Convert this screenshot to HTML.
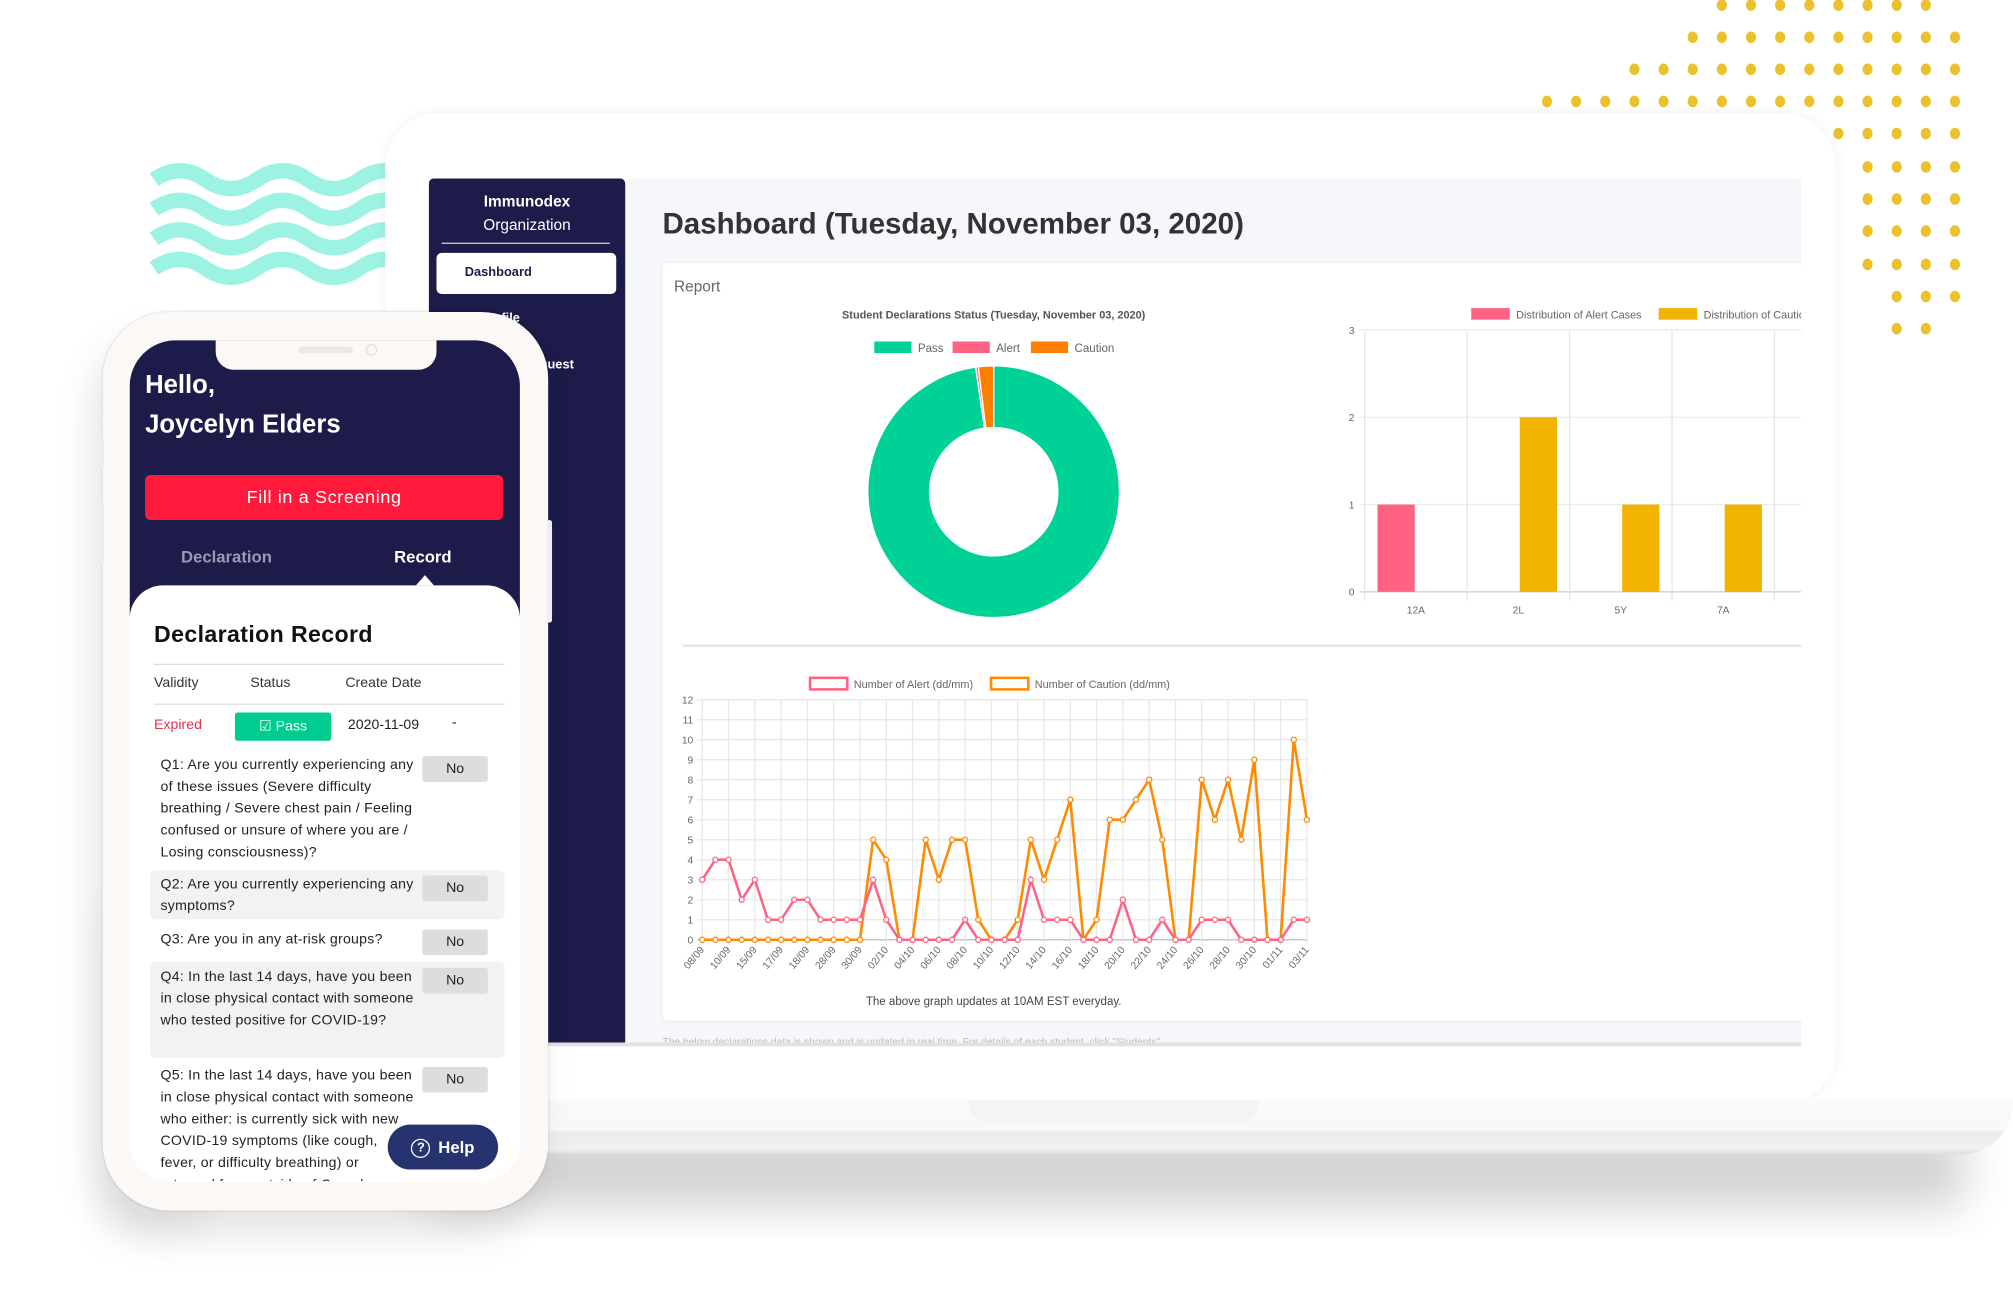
<!DOCTYPE html>
<html><head><meta charset="utf-8">
<style>
html,body{margin:0;padding:0;background:#fff;overflow:hidden}
body{width:2013px;height:1311px;position:relative;font-family:"Liberation Sans",sans-serif}
#stage{position:absolute;left:0;top:0;width:1568px;height:1021px;transform:scale(1.2838);transform-origin:0 0}
.abs{position:absolute}
.side-item{position:absolute;color:#fff;font-size:10px;font-weight:bold;white-space:nowrap;text-align:right}
.q{position:absolute;left:24px;width:200px;font-size:11px;line-height:17px;color:#222;letter-spacing:0.2px}
.no{position:absolute;left:228px;width:51px;height:20px;background:#ddd;border-radius:2px;font-size:11px;text-align:center;line-height:20px;color:#222}
</style></head>
<body>
<div id="stage">
<svg class="abs" style="left:0;top:0" width="1568" height="1021">
  <defs>
    <filter id="blur" x="-20%" y="-20%" width="140%" height="160%"><feGaussianBlur stdDeviation="18"/></filter>
  </defs>
  <g id="dots" fill="#EBC12C"></g>
  <g stroke="#9DF3E3" stroke-width="12" fill="none">
    <path d="M120 140 q20 -14 40 0 t40 0 t40 0 t40 0 t40 0"/>
    <path d="M120 163 q20 -14 40 0 t40 0 t40 0 t40 0 t40 0"/>
    <path d="M120 186 q20 -14 40 0 t40 0 t40 0 t40 0 t40 0"/>
    <path d="M120 209 q20 -14 40 0 t40 0 t40 0 t40 0 t40 0"/>
  </g>
  <rect x="330" y="880" width="1200" height="60" fill="#000" opacity="0.18" filter="url(#blur)"/>
  <rect x="80" y="700" width="80" height="260" fill="#000" opacity="0.06" filter="url(#blur)"/>
</svg>
<!-- laptop -->
<div class="abs" style="left:300px;top:88px;width:1130px;height:772px;background:#fff;border-radius:42px;box-shadow:0 0 10px rgba(0,0,0,0.06)"></div>
<div class="abs" style="left:330px;top:857px;width:1238px;height:42px;background:linear-gradient(#fafafa 0%,#f8f8f8 55%,#ececec 60%,#f1f1f1 90%,#ddd 100%);border-bottom-right-radius:40px"></div>
<div class="abs" style="left:755px;top:857px;width:225px;height:17px;background:#f5f3f3;border-radius:0 0 14px 14px"></div>
<div class="abs" style="left:334px;top:139px;width:1069px;height:673px;background:#f6f7fa;overflow:hidden;border-bottom:3px solid #e2e2e2">
  <div class="abs" style="left:0;top:0;width:153px;height:673px;background:#1c1b4a;border-radius:4px 4px 0 0">
    <div class="abs" style="left:0;top:9px;width:153px;text-align:center;color:#fff;font-size:12px;line-height:18px"><b>Immunodex</b><br>Organization</div>
    <div class="abs" style="left:10px;top:50px;width:131px;height:1px;background:#cfcfe0"></div>
    <div class="abs" style="left:6px;top:58px;width:140px;height:32px;background:#fff;border-radius:4px;font-size:10px;font-weight:bold;color:#1c1b4a;line-height:32px;text-indent:22px">Dashboard</div>
    <div class="side-item" style="right:82px;top:104px">Profile</div>
    <div class="side-item" style="right:40px;top:140px">Request</div>
  </div>
  <div class="abs" style="left:182px;top:22px;font-size:23px;font-weight:bold;color:#333;white-space:nowrap">Dashboard (Tuesday, November 03, 2020)</div>
  <div class="abs" style="left:182px;top:66px;width:900px;height:590px;background:#fff;border-radius:4px;box-shadow:0 0 3px rgba(0,0,0,0.08)">
    <div class="abs" style="left:9px;top:11px;font-size:12px;color:#666">Report</div>
    <div class="abs" style="left:16px;top:297px;width:890px;height:2px;background:#e6e6e6"></div>
  </div>
  <div class="abs" style="left:182px;top:668px;font-size:8px;color:#bbb;white-space:nowrap">The below declarations data is shown and is updated in real time. For details of each student, click "Students".</div>
</div>
<svg id="charts" class="abs" style="left:0;top:0" width="1568" height="1021" font-family="Liberation Sans, sans-serif">
  <defs><clipPath id="clipScreen"><rect x="334" y="139" width="1069" height="673"/></clipPath></defs>
  <g id="chartRoot" clip-path="url(#clipScreen)"></g>
</svg>
<!-- phone -->
<div class="abs" style="left:80px;top:243px;width:347px;height:700px;background:#fbf8f6;border-radius:52px;box-shadow:0 0 2px rgba(0,0,0,0.15),-8px 20px 30px rgba(0,0,0,0.10)">
  <div class="abs" style="left:-3px;top:97px;width:4px;height:25px;background:#eee;border-radius:2px"></div>
  <div class="abs" style="left:-3px;top:147px;width:4px;height:50px;background:#eee;border-radius:2px"></div>
  <div class="abs" style="left:346px;top:162px;width:4px;height:80px;background:#eee;border-radius:2px"></div>
  <div class="abs" style="left:21px;top:22px;width:304px;height:655px;background:#fff;border-radius:36px 36px 30px 30px;overflow:hidden">
    <div class="abs" style="left:0;top:0;width:304px;height:215px;background:#1c1b4a"></div>
    <div class="abs" style="left:67px;top:-2px;width:172px;height:25px;background:#fbf8f6;border-radius:0 0 14px 14px"></div>
    <div class="abs" style="left:131px;top:5px;width:43px;height:5px;background:#ece8e6;border-radius:3px"></div>
    <div class="abs" style="left:184px;top:3px;width:7px;height:7px;border:1px solid #e2dedc;border-radius:50%"></div>
    <div class="abs" style="left:12px;top:20px;color:#fff;font-size:20px;font-weight:bold;line-height:31px;white-space:nowrap">Hello,<br>Joycelyn Elders</div>
    <div class="abs" style="left:12px;top:105px;width:279px;height:35px;background:#ff1a3c;border-radius:4px;color:#fff;font-size:14px;text-align:center;line-height:35px;letter-spacing:0.5px">Fill in a Screening</div>
    <div class="abs" style="left:40px;top:161px;color:#9a9ab5;font-size:13px;font-weight:bold">Declaration</div>
    <div class="abs" style="left:206px;top:161px;color:#fff;font-size:13px;font-weight:bold">Record</div>
    <div class="abs" style="left:223px;top:183px;width:0;height:0;border-left:7px solid transparent;border-right:7px solid transparent;border-bottom:8px solid #fff"></div>
    <div class="abs" style="left:0;top:191px;width:304px;height:470px;background:#fff;border-radius:26px 26px 0 0">
      <div class="abs" style="left:19px;top:28px;font-size:18px;font-weight:bold;color:#111;letter-spacing:0.3px;white-space:nowrap">Declaration Record</div>
      <div class="abs" style="left:19px;top:61px;width:273px;height:1px;background:#ddd"></div>
      <div class="abs" style="left:19px;top:70px;font-size:11px;color:#333">Validity</div>
      <div class="abs" style="left:94px;top:70px;font-size:11px;color:#333">Status</div>
      <div class="abs" style="left:168px;top:70px;font-size:11px;color:#333">Create Date</div>
      <div class="abs" style="left:19px;top:92px;width:273px;height:1px;background:#ddd"></div>
      <div class="abs" style="left:19px;top:103px;font-size:11px;color:#e0344f">Expired</div>
      <div class="abs" style="left:82px;top:99px;width:75px;height:22px;background:#00cc8f;border-radius:2px;color:#fff;font-size:11px;text-align:center;line-height:22px">&#9745; Pass</div>
      <div class="abs" style="left:170px;top:103px;font-size:11px;color:#222">2020-11-09</div>
      <div class="abs" style="left:251px;top:101px;font-size:11px;color:#222">-</div>
      <div class="q" style="top:132px">Q1: Are you currently experiencing any of these issues (Severe difficulty breathing / Severe chest pain / Feeling confused or unsure of where you are / Losing consciousness)?</div>
      <div class="no" style="top:133px">No</div>
      <div class="abs" style="left:16px;top:222px;width:276px;height:38px;background:#f2f2f2;border-radius:4px"></div>
      <div class="q" style="top:225px">Q2: Are you currently experiencing any symptoms?</div>
      <div class="no" style="top:226px">No</div>
      <div class="q" style="top:268px;width:210px">Q3: Are you in any at-risk groups?</div>
      <div class="no" style="top:268px">No</div>
      <div class="abs" style="left:16px;top:293px;width:276px;height:75px;background:#f2f2f2;border-radius:4px"></div>
      <div class="q" style="top:297px">Q4: In the last 14 days, have you been in close physical contact with someone who tested positive for COVID-19?</div>
      <div class="no" style="top:298px">No</div>
      <div class="q" style="top:374px;width:200px">Q5: In the last 14 days, have you been in close physical contact with someone who either: is currently sick with new COVID-19 symptoms (like cough, fever, or difficulty breathing) or returned from outside of Canada</div>
      <div class="no" style="top:375px">No</div>
    </div>
    <div class="abs" style="left:201px;top:611px;width:86px;height:35px;background:#26336e;border-radius:18px;color:#fff;font-size:13px;font-weight:bold;line-height:35px;text-align:center"><span style="display:inline-block;width:13px;height:13px;border:1.5px solid #fff;border-radius:50%;font-size:10px;line-height:13px;vertical-align:middle;margin-right:6px">?</span>Help</div>
  </div>
</div>
</div>
<script>
// ---- data ----
var donutLabels = ["Pass","Alert","Caution"];
var donutValues = [300, 1, 6];
var barCategories = ["12A","2L","5Y","7A"];
var barAlert = [1,0,0,0];
var barCaution = [0,2,1,1];
var barTicks = [0,1,2,3];
var lineLabels = ["08/09","10/09","15/09","17/09","18/09","28/09","30/09","02/10","04/10","06/10","08/10","10/10","12/10","14/10","16/10","18/10","20/10","22/10","24/10","26/10","28/10","30/10","01/11","03/11"];
var alertSeries = [3,4,4,2,3,1,1,2,2,1,1,1,1,3,1,0,0,0,0,0,1,0,0,0,0,3,1,1,1,0,0,0,2,0,0,1,0,0,1,1,1,0,0,0,0,1,1];
var cautionSeries = [0,0,0,0,0,0,0,0,0,0,0,0,0,5,4,0,0,5,3,5,5,1,0,0,1,5,3,5,7,0,1,6,6,7,8,5,0,0,8,6,8,5,9,0,0,10,6];
var lineTicks = [0,1,2,3,4,5,6,7,8,9,10,11,12];

var NS="http://www.w3.org/2000/svg";
function mk(tag, attrs, parent, text){
  var e=document.createElementNS(NS,tag);
  for(var k in attrs) e.setAttribute(k,attrs[k]);
  if(text!==undefined) e.textContent=text;
  parent.appendChild(e); return e;
}
// dots
var dg=document.getElementById('dots');
var dotRows=[[4,6,13],[29,5,14],[54,3,14],[79,0,14],[104,10,14],[130,11,14],[155,11,14],[180,11,14],[206,11,14],[231,12,14],[256,12,13]];
dotRows.forEach(function(r){for(var k=r[1];k<=r[2];k++){
  var c=mk('ellipse',{cx:1205+22.7*k,cy:r[0],rx:4,ry:4.5},dg);
  
  
}});

var root=document.getElementById('chartRoot');
// ---- donut ----
var dcx=774, dcy=383, rO=98, rI=50;
var colors=["#00d196","#ff6384","#ff8000"];
mk('text',{x:774,y:248,'text-anchor':'middle','font-size':8.5,'font-weight':'bold',fill:'#555'},root,"Student Declarations Status (Tuesday, November 03, 2020)");
var lgX=[681,742,803];
donutLabels.forEach(function(l,i){
  var r=mk('rect',{x:lgX[i],y:266,width:29,height:9,fill:colors[i]},root);
  
  
  mk('text',{x:lgX[i]+34,y:274,'font-size':9,fill:'#666'},root,l);
});
var total=donutValues.reduce(function(a,b){return a+b},0), ang=-Math.PI/2;
function pt(r,a){return [dcx+r*Math.cos(a), dcy+r*Math.sin(a)];}
donutValues.forEach(function(v,i){
  var a2=ang+v/total*2*Math.PI, lg=(a2-ang)>Math.PI?1:0;
  var p1=pt(rO,ang),p2=pt(rO,a2),p3=pt(rI,a2),p4=pt(rI,ang);
  var p=mk('path',{d:'M'+p1+' A'+rO+' '+rO+' 0 '+lg+' 1 '+p2+' L'+p3+' A'+rI+' '+rI+' 0 '+lg+' 0 '+p4+' Z',fill:colors[i],stroke:'#fff','stroke-width':1},root);
  
  
  ang=a2;
});
// ---- bar chart ----
var bx0=1063, bcw=79.8, by0=461, byTop=257, bMax=3;
function byS(v){return by0-(v/bMax)*(by0-byTop);}
barTicks.forEach(function(t){
  mk('line',{x1:bx0-4,x2:1403,y1:byS(t),y2:byS(t),stroke:t===0?'#ccc':'#ebebeb','stroke-width':1},root);
  mk('text',{x:bx0-8,y:byS(t)+3,'text-anchor':'end','font-size':8,fill:'#666'},root,t);
});
for(var g=0;g<=barCategories.length;g++) mk('line',{x1:bx0+g*bcw,x2:bx0+g*bcw,y1:byTop,y2:by0+7,stroke:'#e6e6e6'},root);
barCategories.forEach(function(c,i){
  mk('text',{x:bx0+i*bcw+bcw/2,y:478,'text-anchor':'middle','font-size':8,fill:'#666'},root,c);
  var x=bx0+i*bcw;
  if(barAlert[i]>0){var r=mk('rect',{x:x+10,y:byS(barAlert[i]),width:29,height:by0-byS(barAlert[i]),fill:'#ff6384'},root);
    
    }
  if(barCaution[i]>0){var r2=mk('rect',{x:x+41,y:byS(barCaution[i]),width:29,height:by0-byS(barCaution[i]),fill:'#f2b200'},root);
    
    }
});
var bl1=mk('rect',{x:1146,y:240,width:30,height:9,fill:'#ff6384'},root);


mk('text',{x:1181,y:248,'font-size':8.5,fill:'#666'},root,"Distribution of Alert Cases");
var bl2=mk('rect',{x:1292,y:240,width:30,height:9,fill:'#f2b200'},root);


mk('text',{x:1327,y:248,'font-size':8.5,fill:'#666'},root,"Distribution of Caution Cases");
// ---- line chart ----
var lx0=547, lx1=1018, ly0=732, lyTop=545, lMax=12, nPts=alertSeries.length;
function lxS(i){return lx0+i*(lx1-lx0)/(nPts-1);}
function lyS(v){return ly0-(v/lMax)*(ly0-lyTop);}
lineTicks.forEach(function(t){
  mk('line',{x1:lx0-4,x2:lx1,y1:lyS(t),y2:lyS(t),stroke:t===0?'#bbb':'#e8e8e8'},root);
  mk('text',{x:lx0-7,y:lyS(t)+3,'text-anchor':'end','font-size':8,fill:'#666'},root,t);
});
lineLabels.forEach(function(l,j){
  var x=lxS(j*2);
  mk('line',{x1:x,x2:x,y1:lyTop,y2:ly0+4,stroke:'#e8e8e8'},root);
  mk('text',{x:x+2,y:ly0+8,'text-anchor':'end','font-size':8,fill:'#666',transform:'rotate(-50 '+(x+2)+' '+(ly0+8)+')'},root,l);
});
function drawSeries(arr,col,name){
  var d=arr.map(function(v,i){return (i?'L':'M')+lxS(i)+' '+lyS(v);}).join(' ');
  var p=mk('path',{d:d,fill:'none',stroke:col,'stroke-width':2,'stroke-linejoin':'miter'},root);
  
  
  arr.forEach(function(v,i){
    var c=mk('circle',{cx:lxS(i),cy:lyS(v),r:2,fill:'#fff',stroke:col,'stroke-width':1},root);
    
    
  });
}
drawSeries(cautionSeries,'#ff8a00','caution');
drawSeries(alertSeries,'#ff6384','alert');
var ll1=mk('rect',{x:631,y:528,width:29,height:9,fill:'#fff',stroke:'#ff6384','stroke-width':2},root);


mk('text',{x:665,y:536,'font-size':8.5,fill:'#666'},root,"Number of Alert (dd/mm)");
var ll2=mk('rect',{x:772,y:528,width:29,height:9,fill:'#fff',stroke:'#ff8a00','stroke-width':2},root);


mk('text',{x:806,y:536,'font-size':8.5,fill:'#666'},root,"Number of Caution (dd/mm)");
mk('text',{x:774,y:783,'text-anchor':'middle','font-size':9,fill:'#444'},root,"The above graph updates at 10AM EST everyday.");
</script>
</body></html>
